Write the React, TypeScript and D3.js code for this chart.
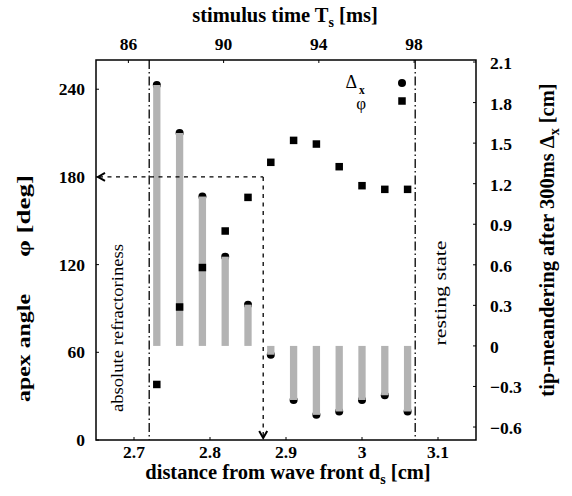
import React from 'react';
import * as d3 from 'd3';

// distance from wave front d_s [cm]
const distance = [2.73, 2.76, 2.79, 2.82, 2.85, 2.88, 2.91, 2.94, 2.97, 3.0, 3.03, 3.06];
// tip meandering after 300ms, Delta_x [cm] (bars + dots)
const meander = [1.93, 1.575, 1.105, 0.66, 0.305, -0.065, -0.4, -0.51, -0.485, -0.4, -0.365, -0.485];
// apex angle phi [deg] (squares)
const apexAngle = [38, 91, 118, 143, 166, 190, 205, 202.5, 187, 174, 171.5, 171.5];

const bottomTicks = [2.7, 2.8, 2.9, 3.0, 3.1];
const topTicks = [86, 90, 94, 98];
const leftTicks = [0, 60, 120, 180, 240];
const rightTicks = [-0.6, -0.3, 0, 0.3, 0.6, 0.9, 1.2, 1.5, 1.8, 2.1];

// markers: refractory border, resting border, threshold (d, phi)
const refractoryD = 2.72;
const restingD = 3.07;
const thresholdD = 2.87;
const thresholdPhi = 180;

const W = 572;
const H = 496;
const margin = { top: 60, right: 96, bottom: 56, left: 96 };
const FONT = '"Liberation Serif", "Times New Roman", serif';

export default function App() {
  const x0 = margin.left;
  const x1 = W - margin.right;
  const y0 = margin.top;
  const y1 = H - margin.bottom;

  const x = d3.scaleLinear().domain([2.65, 3.15]).range([x0, x1]);
  const t = d3.scaleLinear().domain([84.64, 100.6]).range([x0, x1]);
  const yL = d3.scaleLinear().domain([0, 260]).range([y1, y0]);
  const yR = d3.scaleLinear().domain([-0.696, 2.115]).range([y1, y0]);

  const fmtR = (v: number) => (v === 0 ? '0' : d3.format('.1f')(v));
  const barW = 7.3;
  const sq = 7.5;
  const dashDot = '9,3,1.5,3';
  const dotted = '4,4.5';

  return (
    <div style={{ position: 'fixed', left: 0, top: 0 }}>
      <svg width={W} height={H} style={{ display: 'block', background: '#fff' }} fontFamily={FONT}>
        {/* bars with dots */}
        {distance.map((d, i) => {
          const yv = yR(meander[i]);
          const yz = yR(0);
          return (
            <g key={'b' + i}>
              <circle cx={x(d)} cy={yv} r={4} fill="#000" />
              <rect x={x(d) - barW / 2} y={Math.min(yv, yz)} width={barW} height={Math.abs(yz - yv)} fill="#b3b3b3" />
            </g>
          );
        })}
        {/* squares */}
        {distance.map((d, i) => (
          <rect key={'s' + i} x={x(d) - sq / 2} y={yL(apexAngle[i]) - sq / 2} width={sq} height={sq} fill="#000" />
        ))}

        {/* dash-dot borders */}
        <line x1={x(refractoryD)} x2={x(refractoryD)} y1={y0} y2={y1} stroke="#000" strokeWidth={1.3} strokeDasharray={dashDot} />
        <line x1={x(restingD)} x2={x(restingD)} y1={y0} y2={y1} stroke="#000" strokeWidth={1.3} strokeDasharray={dashDot} />

        {/* threshold dotted path */}
        <line x1={x0 + 3} x2={x(thresholdD)} y1={yL(thresholdPhi)} y2={yL(thresholdPhi)} stroke="#000" strokeWidth={1.3} strokeDasharray={dotted} />
        <line x1={x(thresholdD)} x2={x(thresholdD)} y1={yL(thresholdPhi)} y2={y1 - 3} stroke="#000" strokeWidth={1.3} strokeDasharray={dotted} />
        <path
          d={`M${x0 + 9},${yL(thresholdPhi) - 4} L${x0 + 2},${yL(thresholdPhi)} L${x0 + 9},${yL(thresholdPhi) + 4}`}
          fill="none"
          stroke="#000"
          strokeWidth={2}
        />
        <path
          d={`M${x(thresholdD) - 4},${y1 - 9} L${x(thresholdD)},${y1 - 2} L${x(thresholdD) + 4},${y1 - 9}`}
          fill="none"
          stroke="#000"
          strokeWidth={2}
        />

        {/* frame */}
        <rect x={x0} y={y0} width={x1 - x0} height={y1 - y0} fill="none" stroke="#000" strokeWidth={1.5} />

        {/* ticks */}
        {bottomTicks.map((v) => (
          <g key={'bt' + v}>
            <line x1={x(v)} x2={x(v)} y1={y1} y2={y1 - 3} stroke="#000" />
            <text x={x(v)} y={y1 + 18} textAnchor="middle" fontSize={17.5} fontWeight="bold">{d3.format('~g')(v)}</text>
          </g>
        ))}
        {topTicks.map((v) => (
          <g key={'tt' + v}>
            <line x1={t(v)} x2={t(v)} y1={y0} y2={y0 + 3} stroke="#000" />
            <text x={t(v)} y={y0 - 10} textAnchor="middle" fontSize={17.5} fontWeight="bold">{v}</text>
          </g>
        ))}
        {leftTicks.map((v) => (
          <g key={'lt' + v}>
            <line x1={x0} x2={x0 + 3} y1={yL(v)} y2={yL(v)} stroke="#000" />
            <text x={x0 - 11} y={yL(v) + 6} textAnchor="end" fontSize={17.5} fontWeight="bold">{v}</text>
          </g>
        ))}
        {rightTicks.map((v) => (
          <g key={'rt' + v}>
            <line x1={x1} x2={x1 - 3} y1={yR(v)} y2={yR(v)} stroke="#000" />
            <text x={x1 + 14} y={yR(v) + 7} textAnchor="start" fontSize={17.5} fontWeight="bold">{fmtR(v)}</text>
          </g>
        ))}

        {/* axis titles */}
        <text x={285} y={22} textAnchor="middle" fontSize={20.5} fontWeight="bold">
          stimulus time  T<tspan fontSize={14} dy={5}>s</tspan><tspan dy={-5}> [ms]</tspan>
        </text>
        <text x={288} y={479} textAnchor="middle" fontSize={20.5} fontWeight="bold">
          distance from wave front  d<tspan fontSize={14} dy={5}>s</tspan><tspan dy={-5}> [cm]</tspan>
        </text>
        <g transform={`translate(30,0) rotate(-90)`} fontSize={18.5} fontWeight="bold">
          <text x={-348} y={0} textAnchor="middle" textLength={108} lengthAdjust="spacingAndGlyphs">apex angle</text>
          <text x={-216} y={0} textAnchor="middle" textLength={82} lengthAdjust="spacingAndGlyphs">φ [deg]</text>
        </g>
        <text transform={`translate(554,240) rotate(-90)`} textAnchor="middle" fontSize={20.5} fontWeight="bold">
          tip-meandering after 300ms  Δ<tspan fontSize={14} dy={5}>x</tspan><tspan dy={-5}> [cm]</tspan>
        </text>

        {/* region labels */}
        <text transform={`translate(123,328) rotate(-90)`} textAnchor="middle" fontSize={17.5} textLength={168} lengthAdjust="spacingAndGlyphs">
          absolute refractoriness
        </text>
        <text transform={`translate(446,293) rotate(-90)`} textAnchor="middle" fontSize={17.5} textLength={105} lengthAdjust="spacingAndGlyphs">
          resting state
        </text>

        {/* legend */}
        <text x={357} y={88} textAnchor="end" fontSize={18}>Δ</text>
        <text x={359} y={94} textAnchor="start" fontSize={11.5} fontWeight="bold">x</text>
        <text x={366} y={109} textAnchor="end" fontSize={17}>φ</text>
        <circle cx={402} cy={83} r={4} fill="#000" />
        <rect x={402 - sq / 2} y={101 - sq / 2} width={sq} height={sq} fill="#000" />
      </svg>
    </div>
  );
}
